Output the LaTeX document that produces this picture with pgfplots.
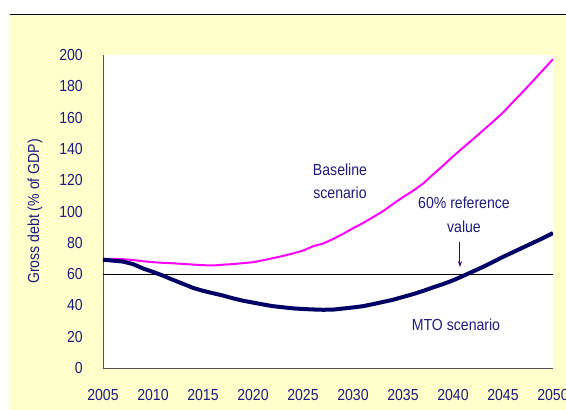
\documentclass[border=0pt]{standalone}
\usepackage{pgfplots}
\pgfplotsset{compat=1.18}
\usepackage{fontspec}
\setmainfont[FakeStretch=0.88]{Liberation Sans}
\usetikzlibrary{arrows.meta}
\definecolor{navytext}{RGB}{28,28,128}
\definecolor{cream}{RGB}{255,255,204}
\definecolor{mto}{RGB}{0,0,102}
\definecolor{basemag}{RGB}{255,0,255}
\definecolor{arrowc}{RGB}{70,0,110}
\definecolor{axisgray}{RGB}{80,80,80}

\begin{document}
\begin{tikzpicture}
% page frame: white margin, black rule on top, cream panel
\path[use as bounding box] (-103pt,-42pt) rectangle (463pt,368pt);
\fill[cream] (-93pt,-42pt) rectangle (463pt,353.5pt);
\draw[black, line width=1.2pt] (-93pt,353.5pt) -- (463pt,353.5pt);
\begin{axis}[
  at={(0pt,0pt)}, anchor=south west,
  scale only axis, width=450pt, height=313pt,
  xmin=2005, xmax=2050, ymin=0, ymax=200,
  xtick={2005,2010,...,2050}, ytick={0,20,...,200},
  axis x line=bottom, axis y line=left,
  axis line style={axisgray, line width=0.9pt, -},
  major tick length=0pt,
  axis background/.style={fill=white},
  /pgf/number format/assume math mode=true,
  /pgf/number format/1000 sep={},
  font={\fontsize{16}{19}\selectfont},
  tick label style={navytext},
  xticklabel style={anchor=center, yshift=-27pt},
  yticklabel style={anchor=east, inner sep=0pt, xshift=-20pt},
  ylabel={Gross debt (\% of GDP)},
  every axis y label/.style={at={([xshift=-68pt]axis description cs:0,0.5)},
    rotate=90, anchor=center, navytext},
]
\addplot[black, line width=1pt] coordinates {(2005,60) (2050,60)};
\addplot[basemag, line width=2pt] coordinates {
 (2005,69.8) (2006,69.8) (2007,69.5) (2008,69.0) (2009,68.2) (2010,67.6)
 (2011,67.2) (2012,66.9) (2013,66.5) (2014,66.1) (2015,65.7) (2016,65.5)
 (2017,66.0) (2018,66.4) (2019,67.0) (2020,67.6) (2021,68.8) (2022,70.2)
 (2023,71.6) (2024,73.2) (2025,75.0) (2026,77.8) (2027,79.5) (2028,82.4)
 (2029,85.7) (2030,89.3) (2031,92.6) (2032,96.4) (2033,100.2) (2034,104.8)
 (2035,109.2) (2036,113.2) (2037,117.8) (2038,123.6) (2039,129.3) (2040,135.2)
 (2041,140.8) (2042,146.2) (2043,151.8) (2044,157.4) (2045,163.2) (2046,170.0)
 (2047,176.6) (2048,183.4) (2049,190.4) (2050,197.3)};
\addplot[mto, line width=4pt] coordinates {
 (2005,69.2) (2006,68.6) (2007,68.0) (2008,66.4) (2009,63.6) (2010,61.4)
 (2011,59.0) (2012,56.3) (2013,53.8) (2014,51.2) (2015,49.3) (2016,47.8)
 (2017,46.3) (2018,44.5) (2019,43.0) (2020,41.8) (2021,40.6) (2022,39.5)
 (2023,38.8) (2024,38.1) (2025,37.7) (2026,37.4) (2027,37.2) (2028,37.3)
 (2029,38.0) (2030,38.7) (2031,39.5) (2032,40.8) (2033,42.2) (2034,43.6)
 (2035,45.4) (2036,47.2) (2037,49.2) (2038,51.5) (2039,53.6) (2040,56.0)
 (2041,58.8) (2042,61.7) (2043,64.6) (2044,67.8) (2045,71.0) (2046,74.0)
 (2047,77.0) (2048,80.0) (2049,83.0) (2050,86.2)};
\node[navytext, align=center, font={\fontsize{16}{23.4}\selectfont}]
  at (axis cs:2028.7,119.5) {Baseline\\scenario};
\node[navytext, align=center, font={\fontsize{16}{23.4}\selectfont}]
  at (axis cs:2041.1,97.8) {60\% reference\\value};
\node[navytext, font={\fontsize{16}{19}\selectfont}]
  at (axis cs:2040.3,27.5) {MTO scenario};
\draw[arrowc, line width=1pt, -{Stealth[length=6pt,width=4pt]}]
  (axis cs:2040.7,80.5) -- (axis cs:2040.7,64.4);
\end{axis}
\end{tikzpicture}
\end{document}
